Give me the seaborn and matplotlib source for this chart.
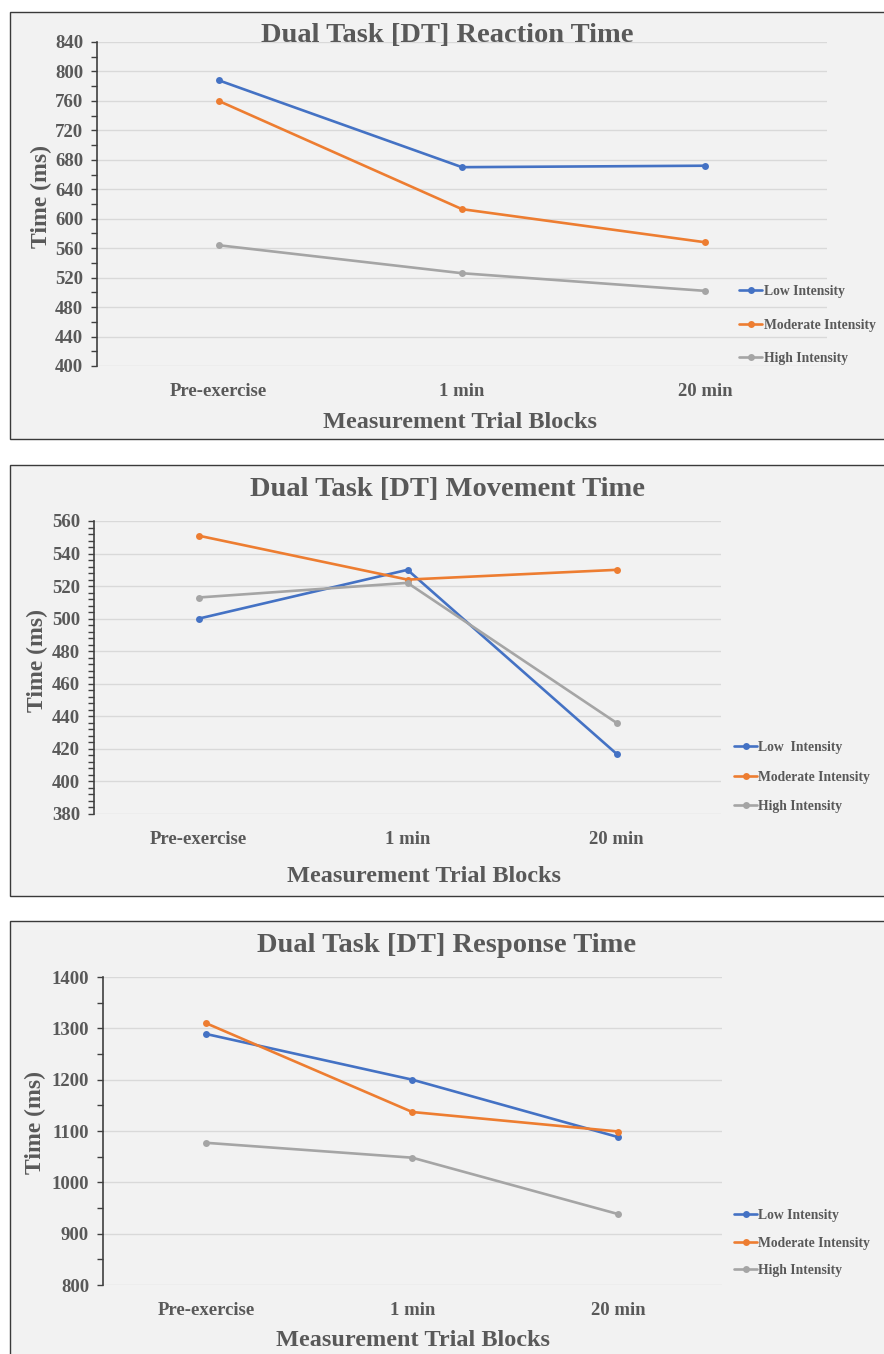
import pandas as pd
import seaborn as sns
import matplotlib.pyplot as plt
from matplotlib.patches import Rectangle
from matplotlib.ticker import MultipleLocator

# Data
blocks = ["Pre-exercise", "1 min", "20 min"]
groups = ["Low Intensity", "Moderate Intensity", "High Intensity"]

reaction_low = [788, 670, 672]
reaction_mod = [760, 613, 568]
reaction_high = [564, 526, 502]

movement_low = [500, 530, 417]
movement_mod = [551, 524, 530]
movement_high = [513, 522, 436]

response_low = [1289, 1200, 1088]
response_mod = [1310, 1137, 1099]
response_high = [1077, 1048, 938]

palette = ["#4472C4", "#ED7D31", "#A5A5A5"]
text_col = "#595959"

sns.set_theme(style="white")
plt.rcParams['font.family'] = ['Liberation Serif', 'DejaVu Serif']
plt.rcParams['font.weight'] = 'bold'

W, H = 884, 1354
fig = plt.figure(figsize=(W / 100, H / 100), dpi=100)
fig.patch.set_facecolor("white")


def px(x, y):
    return x / W, 1 - y / H


# panel backgrounds (chart areas)
for top, bottom in [(12, 439), (465, 896), (921, 1360)]:
    x0, y0 = px(10, bottom)
    fig.patches.append(Rectangle((x0, y0), 1.0, (bottom - top) / H,
                                 transform=fig.transFigure, facecolor="#F2F2F2",
                                 edgecolor="#3a3a3a", linewidth=1.0, zorder=-5))


def make_panel(rect, low, mod, high, ylim, major, minor, title, title_xy,
               ylab_xy, xlab_xy, leg_xy, leg_space, leg_labels):
    ax = fig.add_axes(rect)
    ax.set_facecolor("none")
    df = pd.DataFrame({
        "block": blocks * 3,
        "time": low + mod + high,
        "group": [g for g in groups for _ in blocks],
    })
    sns.lineplot(data=df, x="block", y="time", hue="group", palette=palette,
                 marker="o", markersize=5, markeredgewidth=0, linewidth=1.9,
                 sort=False, ax=ax, clip_on=False)
    ax.set_xlim(-0.5, 2.5)
    ax.set_ylim(*ylim)
    ax.yaxis.set_major_locator(MultipleLocator(major))
    ax.yaxis.set_minor_locator(MultipleLocator(minor))
    ax.grid(axis="y", which="major", color="#D9D9D9", linewidth=1.0)
    ax.set_axisbelow(True)
    for s in ["top", "right", "bottom"]:
        ax.spines[s].set_visible(False)
    ax.spines["left"].set_color("#404040")
    ax.spines["left"].set_linewidth(1.2)
    ax.tick_params(axis="y", which="both", left=True, length=4, width=1,
                   color="#404040", direction="out", labelsize=13.5,
                   labelcolor=text_col, pad=6)
    ax.tick_params(axis="x", length=0, labelsize=13.5, labelcolor=text_col, pad=12)
    for lab in ax.get_xticklabels() + ax.get_yticklabels():
        lab.set_fontweight("bold")
    ax.set_xlabel("")
    ax.set_ylabel("")

    fig.text(*px(*title_xy), title, ha="center", va="center", fontsize=20.5,
             fontweight="bold", color=text_col)
    fig.text(*px(*ylab_xy), "Time (ms)", ha="center", va="center", rotation=90,
             fontsize=17, fontweight="bold", color=text_col)
    fig.text(*px(*xlab_xy), "Measurement Trial Blocks", ha="center", va="center",
             fontsize=17.5, fontweight="bold", color=text_col)

    handles, _ = ax.get_legend_handles_labels()
    ax.legend(handles, leg_labels, loc="center left",
              bbox_to_anchor=px(*leg_xy), bbox_transform=fig.transFigure,
              frameon=False, handlelength=1.7, handletextpad=0.1,
              labelspacing=leg_space, borderpad=0, borderaxespad=0,
              labelcolor=text_col, prop={"weight": "bold", "size": 9.8})
    return ax


make_panel([97 / W, 1 - 366 / H, 730 / W, 324 / H],
           reaction_low, reaction_mod, reaction_high, (400, 840), 40, 20,
           "Dual Task [DT] Reaction Time", (447, 35), (41, 197), (460, 423),
           (739, 325), 1.5, groups)

make_panel([94 / W, 1 - 814 / H, 627 / W, 293 / H],
           movement_low, movement_mod, movement_high, (380, 560), 20, 4,
           "Dual Task [DT] Movement Time", (447, 489), (37, 660), (424, 876),
           (734, 777), 1.2, ["Low  Intensity", "Moderate Intensity", "High Intensity"])

make_panel([103 / W, 1 - 1285 / H, 618.5 / W, 308 / H],
           response_low, response_mod, response_high, (800, 1400), 100, 50,
           "Dual Task [DT] Response Time", (447, 945), (35, 1122), (413, 1340),
           (734, 1243), 1.05, groups)

fig.savefig("out.png", dpi=100)
